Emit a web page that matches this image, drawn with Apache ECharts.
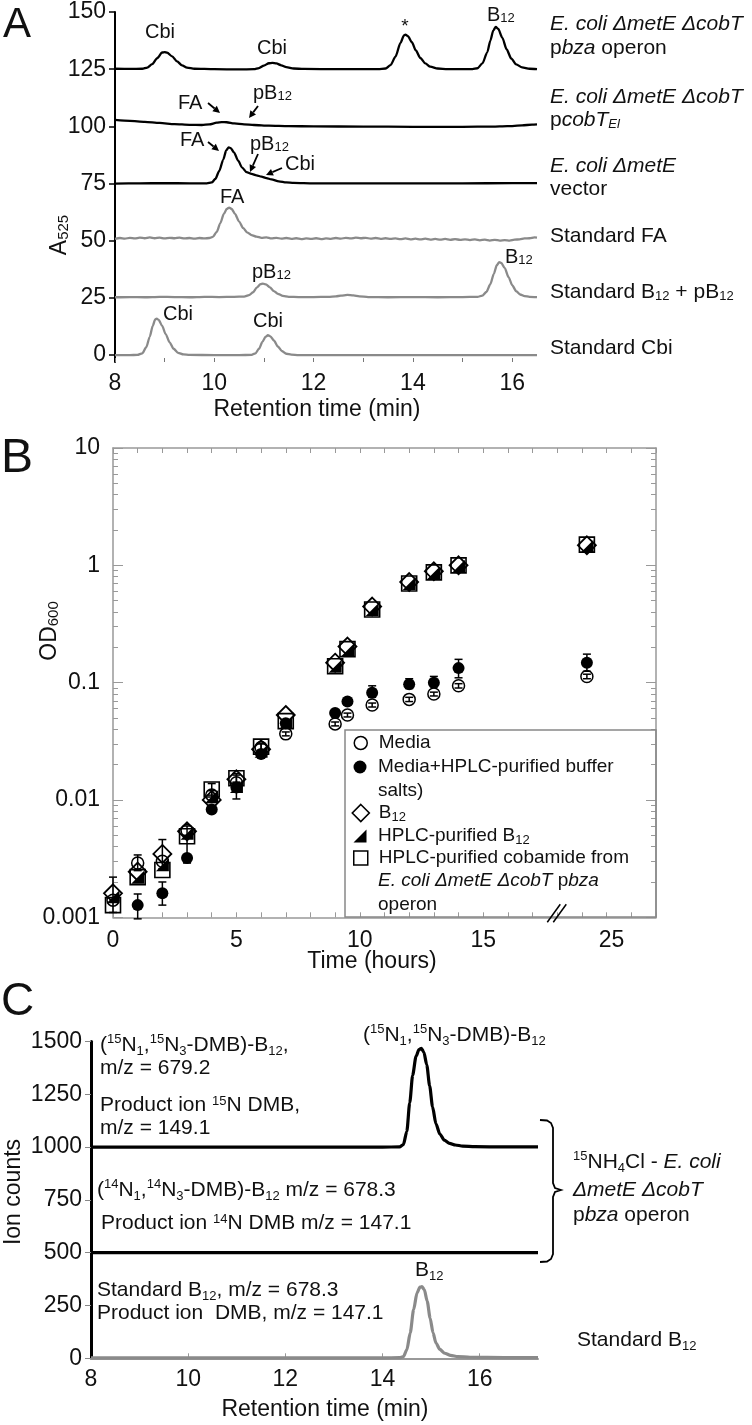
<!DOCTYPE html>
<html><head><meta charset="utf-8">
<script src="https://cdn.jsdelivr.net/npm/echarts@6/dist/echarts.min.js"></script>
<style>html,body{margin:0;padding:0;background:#fff}#c{width:752px;height:1425px}</style>
</head><body><div id="c"></div>
<script>
// ================= Panel A: HPLC traces (A525) =================
const traceA_pbza = [[8.0,125.2],[8.3,125.1],[8.55,125.2],[8.65,125.7],[8.75,127.2],[8.85,129.8],[8.95,132.3],[9.0,132.5],[9.05,132.2],[9.15,130.6],[9.25,128.4],[9.35,126.7],[9.45,125.7],[9.6,125.2],[10.0,125.0],[10.5,124.9],[10.8,125.0],[10.9,125.5],[11.0,126.6],[11.1,127.6],[11.17,127.8],[11.25,127.5],[11.35,126.7],[11.45,125.9],[11.6,125.3],[11.8,125.1],[12.5,125.0],[13.3,125.0],[13.45,125.3],[13.55,126.8],[13.65,130.5],[13.75,136.5],[13.82,139.8],[13.85,140.1],[13.9,139.4],[13.98,136.8],[14.06,133.2],[14.15,129.9],[14.25,127.5],[14.35,126.1],[14.5,125.3],[14.7,125.0],[15.2,125.0],[15.3,125.4],[15.4,127.5],[15.5,132.5],[15.56,137.5],[15.62,142.0],[15.67,143.5],[15.72,142.6],[15.8,138.8],[15.89,133.6],[15.98,129.7],[16.08,127.1],[16.2,125.8],[16.35,125.2],[16.5,125.0]];
const traceA_pcobT = [[8.0,102.8],[8.3,102.4],[8.6,102.0],[8.9,101.5],[9.2,101.0],[9.5,100.7],[9.75,100.6],[9.9,100.9],[10.05,101.6],[10.15,101.9],[10.25,101.8],[10.4,101.3],[10.6,100.9],[10.8,100.6],[11.1,100.3],[11.5,100.1],[12.0,100.0],[13.0,99.9],[14.0,99.8],[15.0,99.8],[15.6,99.9],[15.9,100.1],[16.2,100.4],[16.4,100.8],[16.5,100.9]];
const traceA_vector = [[8.0,75.0],[8.5,75.1],[9.0,75.2],[9.5,75.1],[9.85,75.1],[9.95,75.5],[10.02,77.0],[10.1,80.5],[10.18,85.5],[10.24,89.5],[10.29,90.8],[10.33,90.5],[10.4,88.5],[10.48,85.0],[10.56,82.0],[10.65,80.0],[10.75,79.2],[10.85,78.6],[10.95,78.0],[11.05,77.4],[11.15,76.8],[11.3,76.0],[11.45,75.5],[11.6,75.3],[12.0,75.1],[13.0,75.1],[14.0,75.1],[15.0,75.1],[16.0,75.2],[16.5,75.2]];
const traceA_stdFA = [[8.0,50.8],[8.1,51.2],[8.2,50.9],[8.3,51.3],[8.4,51.0],[8.5,51.4],[8.6,51.1],[8.7,51.5],[8.8,51.1],[8.9,51.4],[9.0,51.0],[9.1,51.3],[9.2,51.1],[9.3,51.4],[9.4,51.0],[9.5,51.2],[9.6,50.9],[9.7,51.2],[9.8,51.0],[9.9,51.2],[9.97,51.7],[10.05,53.9],[10.12,57.6],[10.19,61.6],[10.25,63.9],[10.3,64.5],[10.35,63.9],[10.42,61.6],[10.5,58.4],[10.58,55.6],[10.66,53.7],[10.75,52.5],[10.85,51.8],[10.95,51.3],[11.05,51.5],[11.15,51.0],[11.25,51.3],[11.35,50.9],[11.45,51.2],[11.55,50.8],[11.65,51.1],[11.75,50.7],[11.85,51.0],[11.95,50.8],[12.05,51.1],[12.15,50.7],[12.25,51.0],[12.35,50.8],[12.45,51.2],[12.55,50.9],[12.65,51.3],[12.75,51.0],[12.85,51.4],[12.95,51.1],[13.05,51.3],[13.15,50.9],[13.25,51.2],[13.35,50.8],[13.45,51.1],[13.55,50.8],[13.65,51.0],[13.75,50.7],[13.85,51.0],[13.95,50.6],[14.05,50.9],[14.15,50.6],[14.25,50.9],[14.35,50.5],[14.45,50.8],[14.55,50.5],[14.65,50.8],[14.75,50.4],[14.85,50.7],[14.95,50.4],[15.05,50.6],[15.15,50.3],[15.25,50.6],[15.35,50.2],[15.45,50.5],[15.55,50.1],[15.65,50.4],[15.75,50.1],[15.85,50.3],[15.95,50.1],[16.05,50.5],[16.15,50.6],[16.25,51.0],[16.35,51.1],[16.45,51.5],[16.5,51.4]];
const traceA_stdB12 = [[8.0,25.3],[8.3,25.4],[8.6,25.3],[8.9,25.5],[9.2,25.4],[9.5,25.3],[9.8,25.5],[10.1,25.4],[10.4,25.5],[10.6,25.6],[10.7,26.2],[10.78,27.5],[10.86,29.6],[10.93,31.0],[10.98,31.3],[11.04,30.9],[11.12,29.6],[11.2,28.0],[11.28,26.8],[11.38,25.9],[11.5,25.5],[11.7,25.4],[12.0,25.4],[12.3,25.5],[12.45,25.7],[12.55,26.0],[12.68,26.3],[12.8,26.1],[12.92,25.7],[13.1,25.4],[13.5,25.3],[14.0,25.4],[14.5,25.3],[15.0,25.4],[15.3,25.5],[15.4,26.0],[15.48,27.6],[15.56,31.0],[15.63,35.5],[15.69,39.3],[15.74,40.7],[15.78,40.3],[15.85,38.0],[15.93,34.0],[16.0,30.6],[16.08,28.0],[16.16,26.5],[16.25,25.8],[16.35,25.5],[16.5,25.4]];
const traceA_stdCbi = [[8.0,0.0],[8.3,0.0],[8.45,0.1],[8.55,0.8],[8.63,3.5],[8.7,8.0],[8.76,12.8],[8.81,15.6],[8.84,16.0],[8.88,15.4],[8.95,12.8],[9.02,9.2],[9.1,5.6],[9.18,2.8],[9.27,1.0],[9.38,0.3],[9.5,0.1],[10.0,0.0],[10.5,0.0],[10.75,0.1],[10.83,0.8],[10.9,2.8],[10.97,5.8],[11.03,8.0],[11.08,8.7],[11.13,8.2],[11.2,6.4],[11.28,3.8],[11.36,1.8],[11.45,0.6],[11.55,0.2],[11.7,0.0],[12.5,0.0],[13.5,0.0],[14.5,0.0],[15.5,0.0],[16.5,0.0]];
const ticksA_y = [0,25,50,75,100,125,150];
const ticksA_x = [8,10,12,14,16];
const ticksA_xMinor = [8,9,10,11,12,13,14,15,16];

// ================= Panel B: growth curves (OD600) =================
const timesB = [0,1,2,3,4,5,6,7,9,9.5,10.5,12,13,14,24];
const odMedia      = [0.0014,0.0029,0.0030,0.0055,0.011,0.014,0.028,0.0366,0.0445,0.053,0.0645,0.072,0.080,0.094,0.113];
const odMediaSalts = [0.00096,0.00127,0.0016,0.0032,0.0083,0.0128,0.0246,0.045,0.055,0.069,0.082,0.097,0.100,0.133,0.148];
const odB12        = [0.0016,0.00245,0.00347,0.0054,0.0100,0.0150,0.027,0.053,0.148,0.203,0.445,0.72,0.89,1.0,1.48];
const odHplcB12    = [0.0015,0.0022,0.0028,0.0052,0.0107,0.013,0.026,0.0457,0.138,0.19,0.42,0.70,0.87,0.98,1.45];
const odCobamide   = [0.00127,0.0022,0.00253,0.0049,0.0123,0.0153,0.0285,0.047,0.138,0.193,0.42,0.70,0.87,1.0,1.5];
const errMedia      = [null,[0.0025,0.0034],null,null,null,null,null,[0.0352,0.038],[0.0428,0.0462],[0.051,0.055],[0.062,0.067],[0.069,0.075],[0.077,0.083],[0.090,0.098],[0.108,0.118]];
const errMediaSalts = [null,[0.00097,0.00158],[0.00127,0.0020],[0.0029,0.0049],null,[0.0102,0.0142],null,null,[0.053,0.057],[0.066,0.072],[0.075,0.094],[0.089,0.108],[0.092,0.113],[0.110,0.158],[0.125,0.175]];
const errB12        = [[0.0011,0.0022],null,[0.0026,0.0046],[0.0050,0.0060],null,[0.0138,0.0163],[0.025,0.030],null,null,null,null,null,null,null,null];
const errHplcB12    = [null,null,null,null,[0.0095,0.012],null,null,null,null,null,null,null,null,null,null];
const errCobamide   = [null,null,null,null,[0.011,0.0138],[0.014,0.0168],[0.0265,0.0305],null,null,null,null,null,null,null,null];
const ticksB_x = [0,5,10,15,25];
const ticksB_y = [0.001,0.01,0.1,1,10];
const BREAK_AT = 18, BREAK_SHIFT = 4.8;   // axis break: times after 18 h drawn shifted left

// ================= Panel C: LC-MS traces (ion counts) =================
const traceC_15N = [[8.0,1000],[10,1000],[12,1000],[14.0,1000],[14.35,1001],[14.43,1012],[14.5,1075],[14.56,1210],[14.62,1340],[14.69,1430],[14.75,1462],[14.8,1467],[14.85,1450],[14.91,1390],[14.97,1290],[15.03,1190],[15.1,1110],[15.18,1062],[15.27,1033],[15.38,1018],[15.5,1010],[15.65,1005],[15.9,1002],[16.5,1001],[17.2,1001]];
const traceC_14N = [[8.0,500],[10,500],[12,500],[14,500],[16,500],[17.2,500]];
const traceC_stdB12 = [[8,2],[10,2],[12,2],[14,2],[14.35,3],[14.43,8],[14.5,40],[14.57,120],[14.64,230],[14.71,310],[14.77,337],[14.81,339],[14.86,325],[14.92,270],[14.98,190],[15.04,120],[15.1,72],[15.18,42],[15.28,24],[15.4,14],[15.55,8],[15.8,5],[16.5,3],[17.2,3]];
const ticksC_x = [8,10,12,14,16];

// ================= build =================
const FONT = "'Liberation Sans', Arial, Helvetica, sans-serif";
const INK = '#111';
const GREY = '#8a8a8a';
const toDisp = t => t > BREAK_AT ? t - BREAK_SHIFT : t;

const minorX_B = []; for (let v = 0; v <= 22; v++) minorX_B.push(v);
const minorY_B = []; ticksB_y.slice(0, -1).forEach(d => { for (let k = 2; k <= 9; k++) minorY_B.push(+(d * k).toPrecision(2)); });

function rich(size) {
  const sub = Math.round(size * 0.64);
  return {
    i:  {fontStyle:'italic', fontSize:size, fontFamily:FONT, fill:INK, color:INK},
    s:  {fontSize:sub, fontFamily:FONT, verticalAlign:'bottom', fill:INK, color:INK},
    si: {fontSize:sub, fontStyle:'italic', fontFamily:FONT, verticalAlign:'bottom', fill:INK, color:INK},
    sb: {fontSize:sub, fontFamily:FONT, verticalAlign:'top', padding:[Math.round(size*0.55),0,0,0], fill:INK, color:INK},
    p:  {fontSize:sub, fontFamily:FONT, verticalAlign:'top', fill:INK, color:INK}
  };
}
function T(x, y, text, o) {
  o = o || {};
  const size = o.size || 21, al = o.align || 'left';
  return {type:'text', x, y, rotation:o.rot || 0, z:100, silent:true,
    style:{text, fill:INK, fontSize:size, fontFamily:FONT, fontStyle:o.italic?'italic':'normal',
      align:al, textAlign:al, verticalAlign:'middle', textVerticalAlign:'middle', rich:rich(size)}};
}
function arrow(x1, y1, x2, y2) {
  const a = Math.atan2(y2 - y1, x2 - x1), L = 7, W = 3.5;
  const bx = x2 - L * Math.cos(a), by = y2 - L * Math.sin(a);
  const px = -Math.sin(a) * W, py = Math.cos(a) * W;
  return [{type:'line', z:100, shape:{x1, y1, x2:bx, y2:by}, style:{stroke:'#000', lineWidth:1.8}},
          {type:'polygon', z:100, shape:{points:[[x2,y2],[bx+px,by+py],[bx-px,by-py]]}, style:{fill:'#000'}}];
}

const lineA = (name, data, color) => ({type:'line', name, xAxisIndex:0, yAxisIndex:0, data, symbol:'none', showSymbol:false,
  smooth:0.25, smoothMonotone:'x', lineStyle:{color, width:2.3}, silent:true, emphasis:{disabled:true}});
const lineC = (name, data, color) => ({type:'line', name, xAxisIndex:3, yAxisIndex:5, data, symbol:'none', showSymbol:false,
  smooth:0.25, smoothMonotone:'x', lineStyle:{color, width:3.2}, silent:true, emphasis:{disabled:true}});

const TRI = 'path://M10 0L10 10L0 10Z';
const NAME_MEDIA = 'Media', NAME_SALTS = 'Media+HPLC-purified buffer salts)', NAME_B12 = 'B12',
      NAME_HB12 = 'HPLC-purified B12', NAME_COB = 'HPLC-purified cobamide from E. coli ΔmetE ΔcobT pbza operon';
const scatterDefs = [
  {name:NAME_MEDIA, vals:odMedia, err:errMedia, symbol:'circle', size:12, style:{color:'rgba(255,255,255,0)', borderColor:'#000', borderWidth:1.5, opacity:1}, z:3},
  {name:NAME_SALTS, vals:odMediaSalts, err:errMediaSalts, symbol:'circle', size:12, style:{color:'#000', borderColor:'#000', borderWidth:0, opacity:1}, z:4},
  {name:NAME_B12, vals:odB12, err:errB12, symbol:'diamond', size:18, style:{color:'rgba(255,255,255,0)', borderColor:'#000', borderWidth:1.8, opacity:1}, z:5},
  {name:NAME_HB12, vals:odHplcB12, err:errHplcB12, symbol:TRI, size:13, style:{color:'#000', borderColor:'#000', borderWidth:0, opacity:1}, z:6},
  {name:NAME_COB, vals:odCobamide, err:errCobamide, symbol:'rect', size:15, style:{color:'rgba(255,255,255,0)', borderColor:'#000', borderWidth:1.6, opacity:1}, z:7}
];
const seriesB = [];
scatterDefs.forEach(d => {
  const rows = [];
  timesB.forEach((t, i) => { if (d.err[i]) rows.push([toDisp(t), d.err[i][0], d.err[i][1]]); });
  seriesB.push({type:'custom', name:d.name + ' err', xAxisIndex:1, yAxisIndex:1, z:2, silent:true, data:rows,
    encode:{x:0, y:[1,2]},
    renderItem:(params, api) => {
      const lo = api.coord([api.value(0), api.value(1)]);
      const hi = api.coord([api.value(0), api.value(2)]);
      const c = 4, st = {stroke:'#000', lineWidth:1.5};
      return {type:'group', children:[
        {type:'line', shape:{x1:lo[0], y1:lo[1], x2:hi[0], y2:hi[1]}, style:st},
        {type:'line', shape:{x1:lo[0]-c, y1:lo[1], x2:lo[0]+c, y2:lo[1]}, style:st},
        {type:'line', shape:{x1:hi[0]-c, y1:hi[1], x2:hi[0]+c, y2:hi[1]}, style:st}]};
    }});
  seriesB.push({type:'scatter', name:d.name, xAxisIndex:1, yAxisIndex:1, z:d.z, silent:true,
    symbol:d.symbol, symbolSize:d.size, itemStyle:d.style, emphasis:{disabled:true},
    data:timesB.map((t, i) => [toDisp(t), d.vals[i]])});
});

const legendDefs = [
  {name:NAME_MEDIA, y:743, w:13, icon:'circle', style:{color:'#fff', borderColor:'#000', borderWidth:1.5, opacity:1}, text:'Media'},
  {name:NAME_SALTS, y:767, w:13, icon:'circle', style:{color:'#000', borderColor:'#000', borderWidth:0, opacity:1}, text:'Media+HPLC-purified buffer'},
  {name:NAME_B12, y:813, w:17, icon:'diamond', style:{color:'#fff', borderColor:'#000', borderWidth:1.6, opacity:1}, text:'B{s|12}'},
  {name:NAME_HB12, y:836, w:13, icon:TRI, style:{color:'#000', borderColor:'#000', borderWidth:0, opacity:1}, text:'HPLC-purified B{s|12}'},
  {name:NAME_COB, y:858, w:14, icon:'rect', style:{color:'#fff', borderColor:'#000', borderWidth:1.5, opacity:1}, text:'HPLC-purified cobamide from'}
];
const legends = legendDefs.map(d => ({
  left:360 - d.w / 2, top:d.y - 11, orient:'vertical', padding:0, itemWidth:d.w, itemHeight:d.w, selectedMode:false,
  data:[{name:d.name, icon:d.icon, itemStyle:d.style}],
  formatter:() => d.text,
  textStyle:{fontSize:19, color:INK, fontFamily:FONT, lineHeight:22, padding:[0,0,0,13 - d.w / 2],
    rich:{s:{fontSize:13, fontFamily:FONT, color:INK, verticalAlign:'bottom'}}}
}));

const axisTxt = {fontSize:23, color:INK, fontFamily:FONT};
const option = {
  animation:false,
  backgroundColor:'#fff',
  textStyle:{fontFamily:FONT},
  grid:[
    {left:115, top:12, width:422, height:350, outerBoundsMode:'none', containLabel:false},
    {left:113, top:448, width:543, height:469.3, outerBoundsMode:'none', containLabel:false},
    {left:91, top:1041.5, width:447, height:316.8, outerBoundsMode:'none', containLabel:false}
  ],
  legend:legends,
  xAxis:[
    {gridIndex:0, type:'value', min:8, max:16.5, position:'bottom',
      axisLine:{show:false, onZero:false},
      axisTick:{show:true, inside:true, length:4, customValues:ticksA_xMinor, lineStyle:{color:'#777', width:1}},
      axisLabel:Object.assign({customValues:ticksA_x, margin:10}, axisTxt), splitLine:{show:false}},
    {gridIndex:1, type:'value', min:0, max:22, position:'bottom',
      axisLine:{show:true, onZero:false, lineStyle:{color:'#999', width:1.5}},
      axisTick:{show:true, inside:true, length:5, customValues:minorX_B, lineStyle:{color:'#999', width:1}},
      axisLabel:Object.assign({customValues:ticksB_x.map(toDisp), margin:12,
        formatter:v => v > BREAK_AT ? String(Math.round(v + BREAK_SHIFT)) : String(v)}, axisTxt),
      splitLine:{show:false}},
    {gridIndex:1, type:'value', min:0, max:22, position:'top',
      axisLine:{show:true, onZero:false, lineStyle:{color:'#999', width:1.5}},
      axisTick:{show:true, inside:true, length:5, customValues:minorX_B, lineStyle:{color:'#999', width:1}},
      axisLabel:{show:false}, splitLine:{show:false}},
    {gridIndex:2, type:'value', min:8, max:17.2, position:'bottom',
      axisLine:{show:true, onZero:false, lineStyle:{color:'#999', width:2}},
      axisTick:{show:true, inside:true, length:5, customValues:ticksC_x.slice(1), lineStyle:{color:'#999', width:1}},
      axisLabel:Object.assign({customValues:ticksC_x, margin:10}, axisTxt), splitLine:{show:false}}
  ],
  yAxis:[
    {gridIndex:0, type:'value', min:-3, max:150,
      axisLine:{show:true, onZero:false, lineStyle:{color:'#000', width:2}},
      axisTick:{show:true, inside:false, length:6, customValues:ticksA_y, lineStyle:{color:'#000', width:1.5}},
      axisLabel:Object.assign({customValues:ticksA_y, margin:9, formatter:v => String(v)}, axisTxt), splitLine:{show:false}},
    {gridIndex:1, type:'log', logBase:10, min:0.001, max:10, position:'left',
      axisLine:{show:true, onZero:false, lineStyle:{color:'#999', width:1.5}},
      axisTick:{show:true, inside:true, length:10, customValues:ticksB_y, lineStyle:{color:'#999', width:1}},
      axisLabel:Object.assign({customValues:ticksB_y, margin:13, formatter:v => String(+(+v).toPrecision(3))}, axisTxt),
      splitLine:{show:false}},
    {gridIndex:1, type:'log', logBase:10, min:0.001, max:10, position:'left',
      axisLine:{show:false, onZero:false},
      axisTick:{show:true, inside:true, length:5, customValues:minorY_B, lineStyle:{color:'#999', width:1}},
      axisLabel:{show:false}, splitLine:{show:false}},
    {gridIndex:1, type:'log', logBase:10, min:0.001, max:10, position:'right',
      axisLine:{show:true, onZero:false, lineStyle:{color:'#999', width:1.5}},
      axisTick:{show:true, inside:true, length:10, customValues:ticksB_y, lineStyle:{color:'#999', width:1}},
      axisLabel:{show:false}, splitLine:{show:false}},
    {gridIndex:1, type:'log', logBase:10, min:0.001, max:10, position:'right',
      axisLine:{show:false, onZero:false},
      axisTick:{show:true, inside:true, length:5, customValues:minorY_B, lineStyle:{color:'#999', width:1}},
      axisLabel:{show:false}, splitLine:{show:false}},
    {gridIndex:2, type:'value', min:0, max:1500, interval:250,
      axisLine:{show:true, onZero:false, lineStyle:{color:'#000', width:3}},
      axisTick:{show:true, inside:false, length:6, lineStyle:{color:'#888', width:1}},
      axisLabel:Object.assign({margin:9, formatter:v => String(v)}, axisTxt), splitLine:{show:false}}
  ],
  series:[
    lineA('pbza operon', traceA_pbza, '#000'),
    lineA('pcobT', traceA_pcobT, '#000'),
    lineA('vector', traceA_vector, '#000'),
    lineA('Standard FA', traceA_stdFA, GREY),
    lineA('Standard B12 + pB12', traceA_stdB12, GREY),
    lineA('Standard Cbi', traceA_stdCbi, GREY),
    ...seriesB,
    lineC('15N', traceC_15N, '#000'),
    lineC('14N', traceC_14N, '#000'),
    lineC('Standard B12', traceC_stdB12, GREY)
  ]
};

const graphics = [
  // panel letters
  T(3, 25, 'A', {size:42}), T(1, 459, 'B', {size:48}), T(1, 1002, 'C', {size:46}),
  // ---- panel A ----
  T(317, 410, 'Retention time (min)', {size:23, align:'center'}),
  T(60, 235, 'A{s|525}', {size:23, align:'center', rot:Math.PI / 2}),
  T(550, 24, '{i|E. coli ΔmetE ΔcobT}'), T(550, 48, 'p{i|bza} operon'),
  T(550, 97, '{i|E. coli ΔmetE ΔcobT}'), T(550, 120, 'p{i|cobT}{si|El}'),
  T(550, 166, '{i|E. coli ΔmetE}'), T(550, 189, 'vector'),
  T(550, 236, 'Standard FA'),
  T(550, 292, 'Standard B{s|12} + pB{s|12}'),
  T(550, 348, 'Standard Cbi'),
  T(160, 32, 'Cbi', {size:20, align:'center'}), T(272, 48, 'Cbi', {size:20, align:'center'}),
  T(405, 27, '*', {size:19, align:'center'}), T(487, 15, 'B{s|12}', {size:20}),
  T(178, 103, 'FA', {size:20}), T(253, 93, 'pB{s|12}', {size:20}),
  T(180, 140, 'FA', {size:20}), T(250, 144, 'pB{s|12}', {size:20}), T(285, 164, 'Cbi', {size:20}),
  T(220, 197, 'FA', {size:20}),
  T(252, 272, 'pB{s|12}', {size:20}), T(505, 257, 'B{s|12}', {size:20}),
  T(163, 314, 'Cbi', {size:20}), T(253, 321, 'Cbi', {size:20}),
  ...arrow(208, 103, 220, 113), ...arrow(258, 106, 249, 118),
  ...arrow(208, 142, 219, 151), ...arrow(258, 154, 250, 172), ...arrow(282, 168, 266, 175),
  // ---- panel B ----
  T(372, 962, 'Time (hours)', {size:23, align:'center'}),
  T(50, 631, 'OD{s|600}', {size:23, align:'center', rot:Math.PI / 2}),
  {type:'rect', z:90, silent:true, shape:{x:345, y:730, width:311, height:187}, style:{fill:'none', stroke:'#888', lineWidth:1.5}},
  T(378, 791, 'salts)', {size:19}),
  T(378, 881, '{i|E. coli ΔmetE ΔcobT} p{i|bza}', {size:19}),
  T(378, 905, 'operon', {size:19}),
  // ---- panel C ----
  T(325, 1410, 'Retention time (min)', {size:23, align:'center'}),
  T(14, 1192, 'Ion counts', {size:23, align:'center', rot:Math.PI / 2}),
  T(100, 1045, '({p|15}N{sb|1},{p|15}N{sb|3}-DMB)-B{sb|12},'),
  T(100, 1068, 'm/z = 679.2'),
  T(100, 1105, 'Product ion {p|15}N DMB,'),
  T(100, 1128, 'm/z = 149.1'),
  T(97, 1190, '({p|14}N{sb|1},{p|14}N{sb|3}-DMB)-B{sb|12} m/z = 678.3'),
  T(101, 1223, 'Product ion {p|14}N DMB m/z = 147.1'),
  T(97, 1290, 'Standard B{sb|12}, m/z = 678.3'),
  T(97, 1313, 'Product ion  DMB, m/z = 147.1'),
  T(363, 1035, '({p|15}N{sb|1},{p|15}N{sb|3}-DMB)-B{sb|12}'),
  T(415, 1270, 'B{sb|12}'),
  T(573, 1162, '{p|15}NH{sb|4}Cl - {i|E. coli}'),
  T(573, 1190, '{i|ΔmetE ΔcobT}'),
  T(573, 1215, 'p{i|bza} operon'),
  T(577, 1340, 'Standard B{sb|12}'),
  {type:'polyline', z:100, silent:true,
    shape:{points:[[540,1120],[547,1120.5],[551,1123],[553,1128],[553,1183],[555,1188],[561,1190],[555,1192],[553,1197],[553,1254],[551,1259],[547,1261.5],[540,1262]]},
    style:{stroke:'#000', lineWidth:1.8, fill:null}}
];
option.graphic = graphics;

const chart = echarts.init(document.getElementById('c'), null, {renderer:'canvas', width:752, height:1425});
chart.setOption(option);

// axis-break mark "//" on the time axis of panel B
const bx = chart.convertToPixel({xAxisIndex:1}, BREAK_AT);
const by = chart.convertToPixel({yAxisIndex:1}, ticksB_y[0]);
graphics.push(
  {type:'line', z:100, silent:true, shape:{x1:bx - 10, y1:by + 5, x2:bx + 3, y2:by - 13}, style:{stroke:'#000', lineWidth:1.5}},
  {type:'line', z:100, silent:true, shape:{x1:bx - 4, y1:by + 5, x2:bx + 9, y2:by - 13}, style:{stroke:'#000', lineWidth:1.5}}
);
chart.setOption({graphic:graphics});
</script>
</body></html>
